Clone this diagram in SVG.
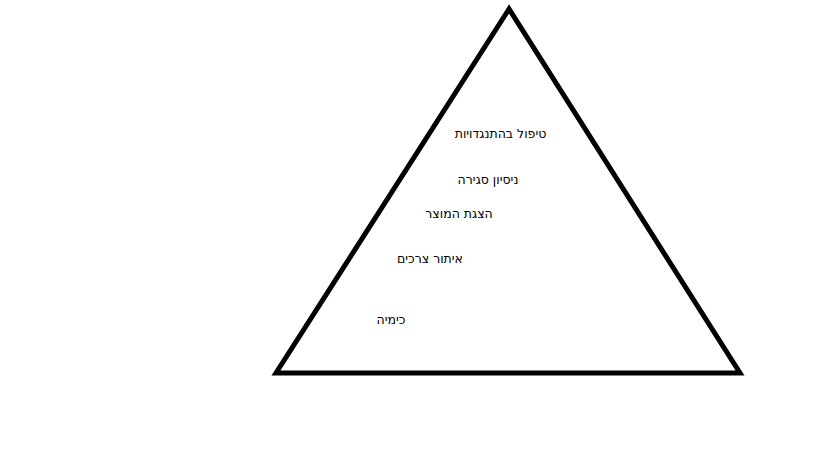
<svg xmlns="http://www.w3.org/2000/svg" width="819" height="460" viewBox="0 0 819 460">
<style>
.lbl{font-family:"DejaVu Sans","Liberation Sans",sans-serif;font-size:12.5px;fill:#000;text-anchor:middle}
</style>
<rect width="819" height="460" fill="#fff"/>
<g id="pyramid">
<polygon points="509,9 276,373 740,373" fill="none" stroke="#000" stroke-width="5" stroke-linejoin="miter"/>
</g>
<g id="connectors"></g>
<g id="level5"><text class="lbl" x="500.5" y="138" direction="rtl">טיפול בהתנגדויות</text></g>
<g id="level4"><text class="lbl" x="488" y="184" direction="rtl">ניסיון סגירה</text></g>
<g id="level3"><text class="lbl" x="459" y="218" direction="rtl">הצגת המוצר</text></g>
<g id="level2"><text class="lbl" x="430" y="263" direction="rtl">איתור צרכים</text></g>
<g id="level1"><text class="lbl" x="391" y="324" direction="rtl">כימיה</text></g>
</svg>
